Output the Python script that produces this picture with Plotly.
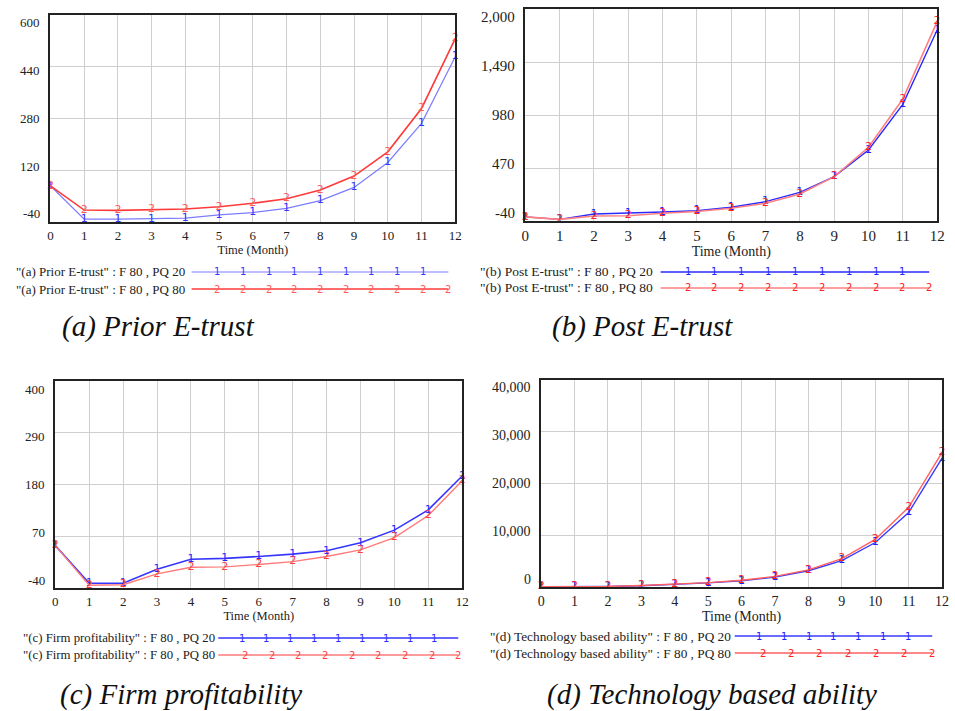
import plotly.graph_objects as go

W, H = 955, 711

months = list(range(13))
x_tick_labels = [str(m) for m in months]

# (a) Prior E-trust
a_pq20 = [72, -31, -31, -30, -28, -18, -11, 2, 26, 67, 144, 265, 471]
a_pq80 = [72, -3, -4, -1, 0, 7, 18, 32, 59, 102, 177, 311, 527]
a_ticks = [-40, 120, 280, 440, 600]
a_tick_labels = ["-40", "120", "280", "440", "600"]

# (b) Post E-trust
b_pq20 = [0, -24, 27, 34, 47, 59, 92, 146, 236, 387, 643, 1083, 1798]
b_pq80 = [0, -24, 8, 11, 34, 52, 82, 130, 220, 387, 669, 1134, 1878]
b_ticks = [-40, 470, 980, 1490, 2000]
b_tick_labels = ["-40", "470", "980", "1,490", "2,000"]

# (c) Firm profitability
c_pq20 = [50, -30, -30, 0, 21, 23, 27, 32, 39, 56, 83, 126, 198]
c_pq80 = [50, -34, -33, -10, 4, 5, 10, 16, 27, 41, 67, 114, 188]
c_ticks = [-40, 70, 180, 290, 400]
c_tick_labels = ["-40", "70", "180", "290", "400"]

# (d) Technology based ability
d_pq20 = [50, 50, 100, 250, 500, 800, 1200, 1900, 3150, 5100, 8600, 14400, 24900]
d_pq80 = [50, 50, 100, 300, 550, 850, 1300, 2050, 3300, 5500, 9200, 15400, 26000]
d_ticks = [0, 10000, 20000, 30000, 40000]
d_tick_labels = ["0", "10,000", "20,000", "30,000", "40,000"]

panels = [
    dict(name="(a) Prior E-trust", s1=a_pq20, s2=a_pq80, ticks=a_ticks, tl=a_tick_labels,
         box=(47, 457, 15, 222), tfs=13, afs=12.5, lfs=13, legx=10, leg_line=(190, 450),
         legy=(272, 289), n1=9, n2=10, cap=(57, 327),
         c1line="#7c7cff", c1txt="#3535ff", c2line="#ff3a3a", c2txt="#ff5a5a", w1=1.2, w2=1.6),
    dict(name="(b) Post E-trust", s1=b_pq20, s2=b_pq80, ticks=b_ticks, tl=b_tick_labels,
         box=(528, 945, 9, 221), tfs=15, afs=14, lfs=13.5, legx=480, leg_line=(665, 937),
         legy=(272, 288), n1=9, n2=10, cap=(553, 327),
         c1line="#2a2aff", c1txt="#2020ff", c2line="#ff8080", c2txt="#ff2020", w1=1.4, w2=1.6),
    dict(name="(c) Firm profitability", s1=c_pq20, s2=c_pq80, ticks=c_ticks, tl=c_tick_labels,
         box=(52, 464, 381, 588), tfs=13, afs=12.5, lfs=12.8, legx=17, leg_line=(217, 460),
         legy=(638, 655), n1=9, n2=9, cap=(55, 694),
         c1line="#3535ff", c1txt="#2a2aff", c2line="#ff7a7a", c2txt="#ff4040", w1=1.6, w2=1.4),
    dict(name="(d) Technology based ability", s1=d_pq20, s2=d_pq80, ticks=d_ticks, tl=d_tick_labels,
         box=(544, 950, 380, 587), tfs=14, afs=14, lfs=13.3, legx=490, leg_line=(740, 940),
         legy=(636, 653), n1=7, n2=7, cap=(548, 694),
         c1line="#3a3aff", c1txt="#2020ff", c2line="#ff6060", c2txt="#ff2020", w1=1.4, w2=1.4),
]

SERIF = "Times New Roman, Liberation Serif, DejaVu Serif, serif"

fig = go.Figure()
layout = dict(width=W, height=H, margin=dict(l=0, r=0, t=0, b=0),
              paper_bgcolor="white", plot_bgcolor="white", showlegend=False,
              font=dict(family=SERIF))
annotations = []
shapes = []

def px(x):
    return x / W

def py(y):
    return 1 - y / H

for i, p in enumerate(panels):
    k = "" if i == 0 else str(i + 1)
    xa, ya = "x" + k, "y" + k
    x0, x1, y0, y1 = p["box"]
    ymin, ymax = p["ticks"][0], p["ticks"][-1]
    fig.add_trace(go.Scatter(x=months, y=p["s1"], xaxis=xa, yaxis=ya, mode="lines+text",
                             text=["1"] * len(months), textposition="middle center",
                             textfont=dict(family="DejaVu Sans", size=11, color=p["c1txt"]),
                             line=dict(color=p["c1line"], width=p["w1"]), cliponaxis=False))
    fig.add_trace(go.Scatter(x=months, y=p["s2"], xaxis=xa, yaxis=ya, mode="lines+text",
                             text=["2"] * len(months), textposition="middle center",
                             textfont=dict(family="DejaVu Sans", size=11, color=p["c2txt"]),
                             line=dict(color=p["c2line"], width=p["w2"]), cliponaxis=False))
    layout["xaxis" + k] = dict(domain=[px(x0), px(x1)], anchor=ya, range=[0, 12],
                               tickvals=months, ticktext=x_tick_labels, showgrid=True,
                               gridcolor="#cfcfcf", gridwidth=1, zeroline=False,
                               showline=True, linecolor="#222", linewidth=2, mirror=True,
                               ticks="", tickfont=dict(family=SERIF, size=p["tfs"], color="#222"),
                               title=dict(text="Time (Month)", standoff=2,
                                          font=dict(family=SERIF, size=p["afs"], color="#222")))
    layout["yaxis" + k] = dict(domain=[py(y1), py(y0)], anchor=xa, range=[ymin, ymax],
                               tickvals=p["ticks"], showticklabels=False, showgrid=True,
                               gridcolor="#cfcfcf", gridwidth=1, zeroline=False,
                               showline=True, linecolor="#222", linewidth=2, mirror=True, ticks="")
    # y tick labels (Vensim style: spread inside the frame)
    for v, t in zip(p["ticks"], p["tl"]):
        f = (v - ymin) / (ymax - ymin)
        annotations.append(dict(x=0, xref=xa + " domain", y=v, yref=ya, text=t, showarrow=False,
                                xanchor="right", yanchor="middle", xshift=-8,
                                yshift=-8 * (2 * f - 1),
                                font=dict(family=SERIF, size=p["tfs"], color="#222")))
    # legend
    lx0, lx1 = p["leg_line"]
    for j, (lab, ly, col_l, col_t, n, wd, num) in enumerate([
            (f'"{p["name"]}" : F 80 , PQ 20', p["legy"][0], p["c1line"], p["c1txt"], p["n1"], p["w1"], "1"),
            (f'"{p["name"]}" : F 80 , PQ 80', p["legy"][1], p["c2line"], p["c2txt"], p["n2"], p["w2"], "2")]):
        annotations.append(dict(x=px(p["legx"]), y=py(ly), xref="paper", yref="paper", text=lab,
                                showarrow=False, xanchor="left", yanchor="middle",
                                font=dict(family=SERIF, size=p["lfs"], color="#222")))
        shapes.append(dict(type="line", xref="paper", yref="paper", x0=px(lx0), x1=px(lx1),
                           y0=py(ly), y1=py(ly), line=dict(color=col_l, width=wd)))
        span = lx1 - lx0
        if num == "1":
            pos = [lx0 + span * (m + 1) / (n + 1) for m in range(n)]
        else:
            pos = [lx0 + span * (m + 1) / n for m in range(n)]
        for xx in pos:
            annotations.append(dict(x=px(xx), y=py(ly), xref="paper", yref="paper", text=num,
                                    showarrow=False, xanchor="center", yanchor="middle",
                                    font=dict(family="DejaVu Sans", size=10, color=col_t)))
    # caption
    cx, cy = p["cap"]
    annotations.append(dict(x=px(cx), y=py(cy), xref="paper", yref="paper",
                            text="<i>" + p["name"] + "</i>", showarrow=False,
                            xanchor="left", yanchor="middle",
                            font=dict(family=SERIF, size=29, color="#111")))

layout["annotations"] = annotations
layout["shapes"] = shapes
fig.update_layout(**layout)
fig.write_html("out.html", config={"displayModeBar": False},
               post_script="document.body.style.margin='0';document.body.style.overflow='hidden';")
